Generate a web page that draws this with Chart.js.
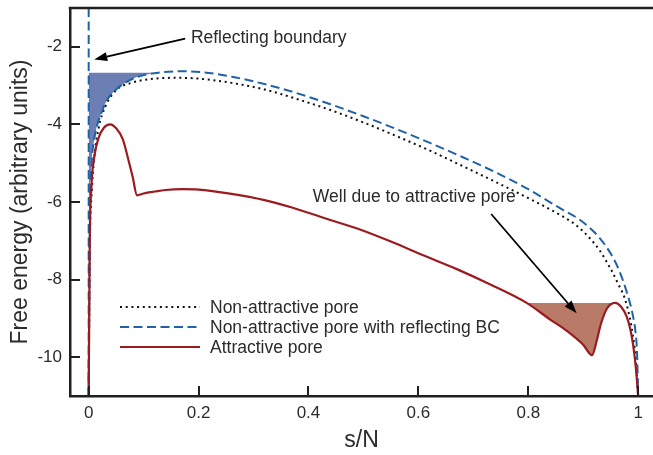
<!DOCTYPE html>
<html>
<head>
<meta charset="utf-8">
<script src="https://cdn.jsdelivr.net/npm/chart.js@4.4.1/dist/chart.umd.min.js"></script>
<style>
  html, body { margin: 0; padding: 0; background: #fff; }
</style>
</head>
<body>
<canvas id="chart" width="653" height="455"></canvas>
<script>
// free energy vs s/N

// non-attractive pore (dotted)
const sNonAttr = [0, 0.002, 0.005, 0.01, 0.018, 0.03, 0.05, 0.08, 0.12, 0.16, 0.2, 0.26, 0.32, 0.38, 0.44,
                  0.5, 0.56, 0.62, 0.68, 0.74, 0.8, 0.86, 0.89, 0.913, 0.93, 0.949, 0.965, 0.976, 0.985, 0.99, 0.995, 1.0];
const fNonAttr = [-11, -7.2, -5.9, -4.9, -4.1, -3.55, -3.12, -2.92, -2.82, -2.8, -2.82, -2.93, -3.1, -3.35, -3.63,
                  -3.95, -4.3, -4.67, -5.07, -5.48, -5.9, -6.35, -6.63, -6.95, -7.25, -7.7, -8.15, -8.5, -9.0, -9.4, -9.95, -11];

// non-attractive pore with reflecting BC (dashed)
const sReflect = [0, 0.002, 0.005, 0.01, 0.015, 0.022, 0.033, 0.05, 0.075, 0.1, 0.115, 0.13, 0.17, 0.21, 0.26, 0.32, 0.38,
                  0.44, 0.5, 0.56, 0.62, 0.68, 0.74, 0.8, 0.86, 0.89, 0.91, 0.93, 0.95, 0.965, 0.979, 0.99, 0.995, 0.998, 1.0];
const fReflect = [-11, -6.6, -5.1, -4.4, -4.04, -3.75, -3.38, -3.1, -2.86, -2.73, -2.69, -2.66, -2.63, -2.66, -2.77, -2.96, -3.2,
                  -3.48, -3.79, -4.12, -4.47, -4.84, -5.23, -5.67, -6.18, -6.42, -6.64, -6.93, -7.33, -7.75, -8.31, -8.9, -9.33, -9.9, -11];

// attractive pore (solid)
const sAttr = [0, 0.002, 0.005, 0.01, 0.018, 0.028, 0.039, 0.05, 0.062, 0.072, 0.08, 0.088, 0.1, 0.12, 0.14, 0.17,
               0.2, 0.26, 0.32, 0.37, 0.43, 0.49, 0.55, 0.61, 0.67, 0.73, 0.797, 0.84, 0.87, 0.9, 0.916,
               0.925, 0.932, 0.943, 0.958, 0.97, 0.979, 0.986, 0.991, 0.996, 1.0];
const fAttr = [-11, -7.0, -5.6, -4.85, -4.35, -4.08, -4.0, -4.1, -4.38, -4.9, -5.35, -5.83, -5.78, -5.73, -5.69, -5.67,
               -5.68, -5.79, -5.95, -6.14, -6.42, -6.69, -7.02, -7.38, -7.73, -8.12, -8.6, -9.03, -9.32, -9.68, -9.95,
               -9.55, -9.15, -8.75, -8.6, -8.72, -8.95, -9.3, -9.7, -10.3, -11];

// reflecting boundary at s = 0
const sBoundary = [0, 0];
const fBoundary = [-1, -11];

// shaded wells
const reflectWellTop = -2.67;
const reflectWellEnd = 0.115;
const attrWellTop = -8.6;
const attrWellStart = 0.797;
const attrWellEnd = 0.958;

const xMajor = [0, 0.2, 0.4, 0.6, 0.8, 1];
const yMajor = [-10, -8, -6, -4, -2];

const FONT = "'Liberation Sans', Arial, Helvetica, sans-serif";
const TEXT = '#2b2b2b';
const AXIS = '#231f20';

const pts = (xs, ys) => xs.map((x, i) => ({x: x, y: ys[i]}));
const between = (xs, ys, a, b) => pts(xs, ys).filter(p => p.x >= a - 1e-9 && p.x <= b + 1e-9);
const isMajor = (v, list) => list.some(m => Math.abs(v - m) < 1e-6);
const labelFor = (v, list) => {
    const m = list.find(m => Math.abs(v - m) < 1e-6);
    return m === undefined ? undefined : String(m);
};

// annotations (text + arrow), in data coordinates
const notes = [
    {text: 'Reflecting boundary', at: [0.186, -1.79], from: [0.1756, -1.79], to: [0.010, -2.33]},
    {text: 'Well due to attractive pore', at: [0.408, -5.87], from: [0.7325, -6.31], to: [0.888, -8.87]}
];

const decorations = {
    id: 'decorations',
    afterDraw(chart) {
        const {ctx, chartArea: a, scales: {x, y}} = chart;
        ctx.save();

        // top frame line
        ctx.strokeStyle = AXIS;
        ctx.lineWidth = 2.5;
        ctx.beginPath();
        ctx.moveTo(a.left - 1.25, a.top);
        ctx.lineTo(a.right, a.top);
        ctx.stroke();

        // inward tick marks
        ctx.lineWidth = 2;
        x.ticks.forEach(t => {
            const px = Math.round(x.getPixelForValue(t.value));
            const len = isMajor(t.value, xMajor) ? 10 : 5;
            ctx.beginPath();
            ctx.moveTo(px, a.bottom);
            ctx.lineTo(px, a.bottom - len);
            ctx.stroke();
        });
        y.ticks.forEach(t => {
            const py = Math.round(y.getPixelForValue(t.value));
            const len = isMajor(t.value, yMajor) ? 10 : 5;
            ctx.beginPath();
            ctx.moveTo(a.left, py);
            ctx.lineTo(a.left + len, py);
            ctx.stroke();
        });

        // annotations
        ctx.font = '17.5px ' + FONT;
        ctx.textBaseline = 'middle';
        ctx.textAlign = 'left';
        notes.forEach(n => {
            ctx.fillStyle = TEXT;
            ctx.fillText(n.text, x.getPixelForValue(n.at[0]), y.getPixelForValue(n.at[1]));
            const x0 = x.getPixelForValue(n.from[0]), y0 = y.getPixelForValue(n.from[1]);
            const x1 = x.getPixelForValue(n.to[0]), y1 = y.getPixelForValue(n.to[1]);
            const ang = Math.atan2(y1 - y0, x1 - x0);
            const hl = 13, hw = 4.5;
            ctx.strokeStyle = '#000';
            ctx.fillStyle = '#000';
            ctx.lineWidth = 1.8;
            ctx.setLineDash([]);
            ctx.beginPath();
            ctx.moveTo(x0, y0);
            ctx.lineTo(x1 - hl * Math.cos(ang), y1 - hl * Math.sin(ang));
            ctx.stroke();
            ctx.beginPath();
            ctx.moveTo(x1, y1);
            ctx.lineTo(x1 - hl * Math.cos(ang) - hw * Math.sin(ang), y1 - hl * Math.sin(ang) + hw * Math.cos(ang));
            ctx.lineTo(x1 - hl * Math.cos(ang) + hw * Math.sin(ang), y1 - hl * Math.sin(ang) - hw * Math.cos(ang));
            ctx.closePath();
            ctx.fill();
        });

        // legend, lower left inside the frame (dotted, dashed, solid)
        const rows = chart.data.datasets.filter(d => d.inLegend).sort((p, q) => p.legendRank - q.legendRank);
        rows.forEach((d, i) => {
            const ly = a.bottom - 89 + i * 20;
            ctx.strokeStyle = d.borderColor;
            ctx.lineWidth = d.borderWidth;
            ctx.setLineDash(d.borderDash || []);
            ctx.beginPath();
            ctx.moveTo(a.left + 50, ly);
            ctx.lineTo(a.left + 130, ly);
            ctx.stroke();
            ctx.setLineDash([]);
            ctx.fillStyle = TEXT;
            ctx.fillText(d.label, a.left + 140, ly + 1);
        });

        ctx.restore();
    }
};

const curve = {
    pointRadius: 0,
    fill: false,
    cubicInterpolationMode: 'monotone'
};

new Chart(document.getElementById('chart').getContext('2d'), {
    type: 'line',
    data: {
        datasets: [
            Object.assign({}, curve, {
                label: 'Attractive pore',
                inLegend: true,
                legendRank: 3,
                data: pts(sAttr, fAttr),
                borderColor: '#9b1b20',
                borderWidth: 2.2
            }),
            Object.assign({}, curve, {
                label: 'Non-attractive pore with reflecting BC',
                inLegend: true,
                legendRank: 2,
                data: pts(sReflect, fReflect),
                borderColor: '#1f63a6',
                borderWidth: 2,
                borderDash: [9, 4.5]
            }),
            Object.assign({}, curve, {
                label: 'Non-attractive pore',
                inLegend: true,
                legendRank: 1,
                data: pts(sNonAttr, fNonAttr),
                borderColor: '#111111',
                borderWidth: 2,
                borderDash: [2, 3.7]
            }),
            {
                label: 'boundary',
                data: pts(sBoundary, fBoundary),
                borderColor: '#1f63a6',
                borderWidth: 2,
                borderDash: [9, 4.5],
                pointRadius: 0,
                tension: 0,
                fill: false
            },
            Object.assign({}, curve, {
                label: 'reflect well',
                data: between(sReflect, fReflect, 0, reflectWellEnd),
                borderWidth: 0,
                borderColor: 'rgba(0,0,0,0)',
                backgroundColor: '#6b7fb4',
                fill: {value: reflectWellTop}
            }),
            Object.assign({}, curve, {
                label: 'attractive well',
                data: between(sAttr, fAttr, attrWellStart, attrWellEnd),
                borderWidth: 0,
                borderColor: 'rgba(0,0,0,0)',
                backgroundColor: '#b97a68',
                fill: {value: attrWellTop}
            })
        ]
    },
    options: {
        responsive: false,
        animation: false,
        devicePixelRatio: 1,
        layout: { padding: {top: 8, right: 0, left: 0, bottom: 0} },
        plugins: {
            legend: { display: false },
            tooltip: { enabled: false }
        },
        scales: {
            x: {
                type: 'linear',
                min: -0.034,
                max: 1.027,
                afterFit: s => { s.height = 59; s.paddingLeft = 0; s.paddingRight = 0; },
                grid: { display: false, drawTicks: false },
                border: { display: true, color: AXIS, width: 2.5 },
                ticks: {
                    stepSize: 0.05,
                    includeBounds: false,
                    autoSkip: false,
                    maxRotation: 0,
                    padding: 7,
                    color: TEXT,
                    font: { family: FONT, size: 17 },
                    callback: v => labelFor(v, xMajor)
                },
                title: {
                    display: true,
                    text: 's/N',
                    color: TEXT,
                    font: { family: FONT, size: 23 },
                    padding: { top: 0, bottom: 1 }
                }
            },
            y: {
                type: 'linear',
                min: -11,
                max: -1,
                afterFit: s => { s.width = 70; s.paddingTop = 0; s.paddingBottom = 0; },
                grid: { display: false, drawTicks: false },
                border: { display: true, color: AXIS, width: 2.5 },
                ticks: {
                    stepSize: 0.5,
                    includeBounds: false,
                    autoSkip: false,
                    padding: 8,
                    color: TEXT,
                    font: { family: FONT, size: 17 },
                    callback: v => labelFor(v, yMajor)
                },
                title: {
                    display: true,
                    text: 'Free energy (arbitrary units)',
                    color: TEXT,
                    font: { family: FONT, size: 23 },
                    padding: { top: 7, bottom: 0 }
                }
            }
        }
    },
    plugins: [decorations]
});
</script>
</body>
</html>
